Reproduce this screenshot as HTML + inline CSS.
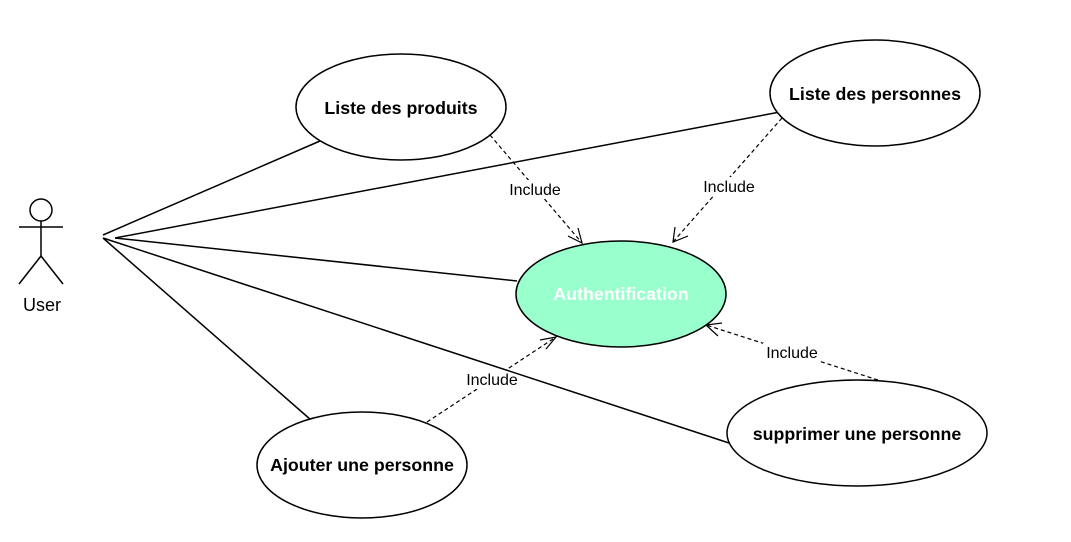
<!DOCTYPE html>
<html><head><meta charset="utf-8"><style>
html,body{margin:0;padding:0;background:#fff;}
svg{display:block;}
text{font-family:"Liberation Sans",Arial,sans-serif;}
</style></head><body>
<svg width="1071" height="542" viewBox="0 0 1071 542" xmlns="http://www.w3.org/2000/svg">
<g stroke="#000" stroke-width="1.2" fill="none" stroke-dasharray="4,3">
<line x1="490" y1="135" x2="582" y2="243"/>
<line x1="782" y1="118" x2="673" y2="242"/>
<line x1="427" y1="422" x2="556" y2="337"/>
<line x1="878" y1="380" x2="706" y2="325"/>
</g>
<g fill="#fff">
<rect x="506" y="180" width="58" height="19"/>
<rect x="700" y="177" width="58" height="19"/>
<rect x="463" y="370" width="58" height="19"/>
<rect x="763" y="343" width="58" height="19"/>
</g>
<g stroke="#000" stroke-width="1.5" fill="none">
<circle cx="41" cy="210" r="11"/>
<line x1="41" y1="221" x2="41" y2="256"/>
<line x1="19" y1="227" x2="63" y2="227"/>
<line x1="41" y1="256" x2="19" y2="284"/>
<line x1="41" y1="256" x2="63" y2="284"/>
<line x1="103" y1="235" x2="320" y2="141"/>
<line x1="115" y1="238" x2="780" y2="112"/>
<line x1="115" y1="238" x2="517" y2="281"/>
<line x1="103" y1="238" x2="311" y2="420"/>
<line x1="103" y1="238" x2="729" y2="443"/>
</g>
<g stroke="#000" stroke-width="1.2" fill="none">
<polyline points="568,236 582,243 578,228"/>
<polyline points="675,227 673,242 688,236"/>
<polyline points="546,349 556,337 540,340"/>
<polyline points="718,336 706,325 722,323"/>
</g>
<g stroke="#000" stroke-width="1.5">
<ellipse cx="401" cy="107" rx="105" ry="53" fill="#fff"/>
<ellipse cx="875" cy="93" rx="105" ry="53" fill="#fff"/>
<ellipse cx="621" cy="294" rx="105" ry="53" fill="#99FFCC"/>
<ellipse cx="362" cy="465" rx="105" ry="53" fill="#fff"/>
<ellipse cx="857" cy="433" rx="130" ry="53" fill="#fff"/>
</g>
<g font-size="17.8" font-weight="bold" text-anchor="middle" fill="#000">
<text x="401" y="114">Liste des produits</text>
<text x="875" y="100">Liste des personnes</text>
<text x="621" y="300" fill="#fff">Authentification</text>
<text x="362" y="471">Ajouter une personne</text>
<text x="857" y="440">supprimer une personne</text>
</g>
<g font-size="16" text-anchor="middle" fill="#000">
<text x="535" y="195">Include</text>
<text x="729" y="192">Include</text>
<text x="492" y="385">Include</text>
<text x="792" y="358">Include</text>
<text x="42" y="311" font-size="18">User</text>
</g>
</svg>
</body></html>
